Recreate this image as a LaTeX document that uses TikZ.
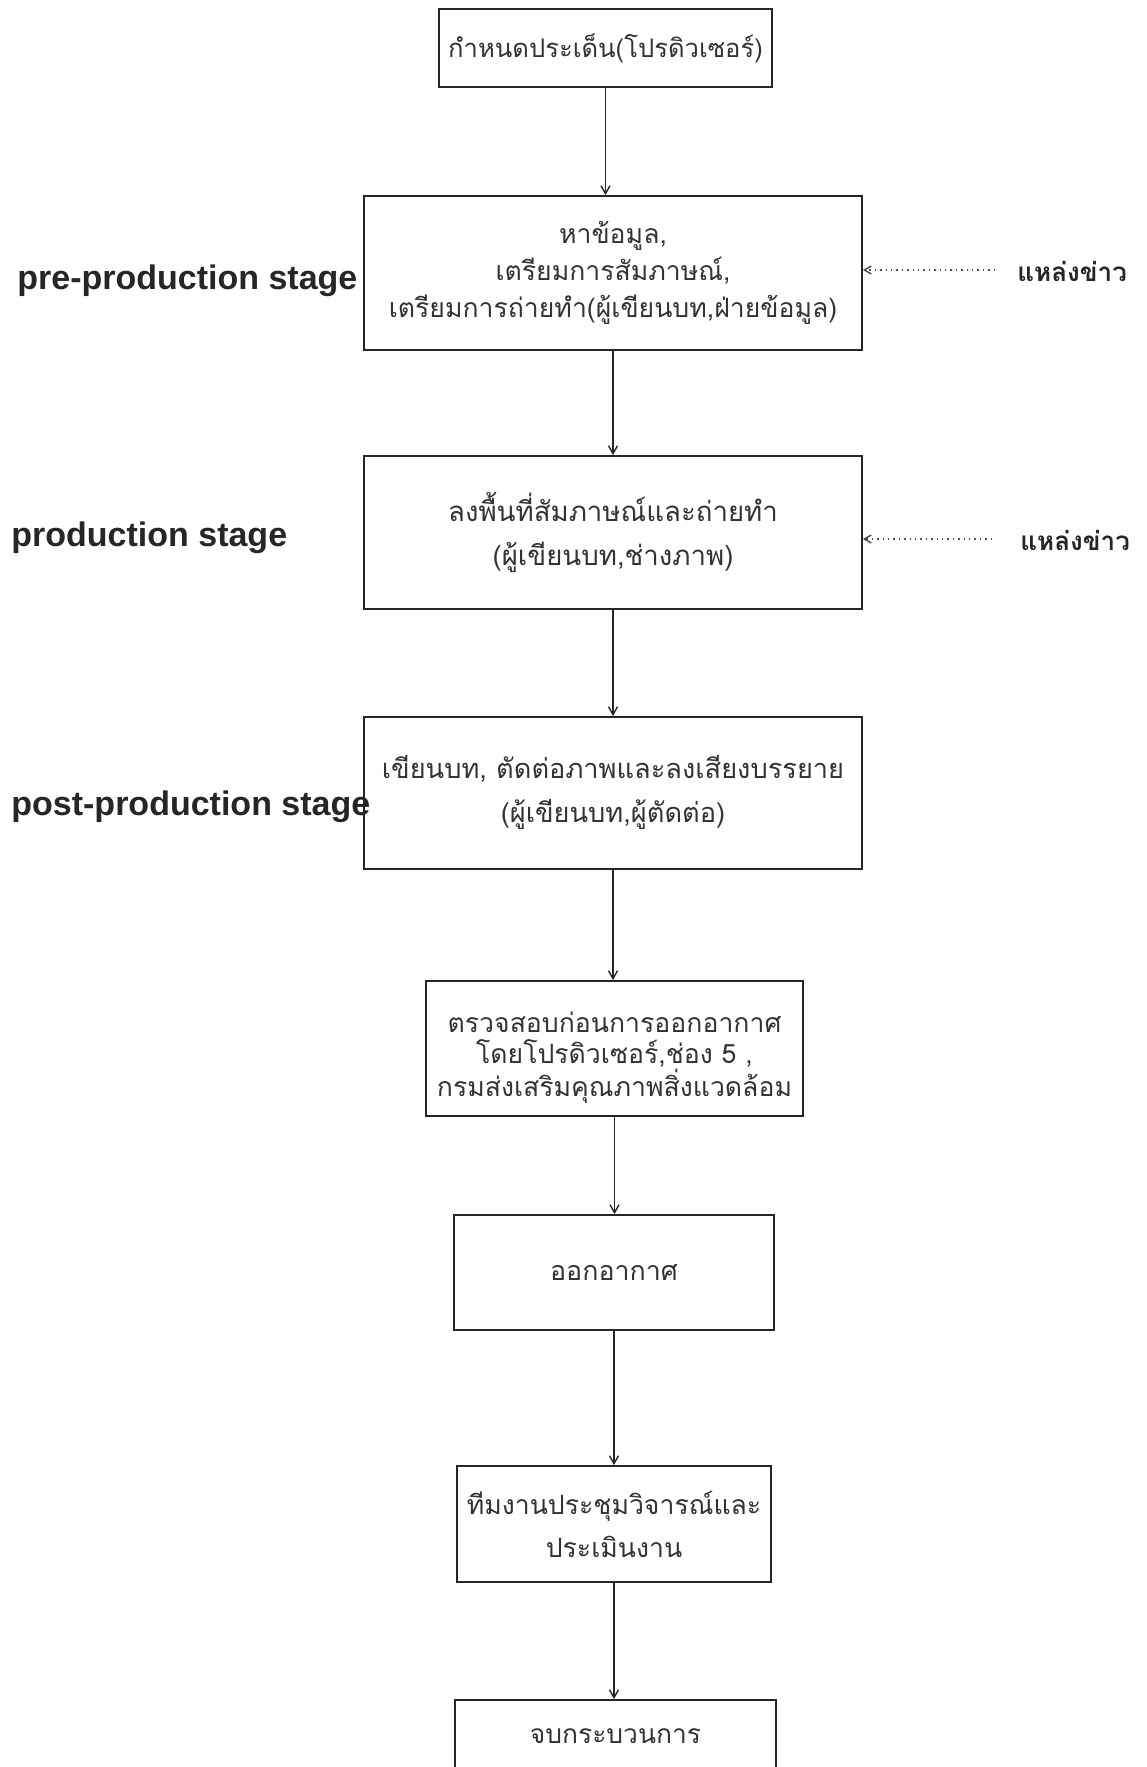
\documentclass[tikz,border=0pt]{standalone}
\usepackage{fontspec}
\newfontfamily\thaifont[Script=Thai]{Loma}
\newfontfamily\labfont{Liberation Sans}
\usetikzlibrary{arrows.meta}
\begin{document}
\begin{tikzpicture}[x=0.5pt,y=-0.5pt,
  box/.style={draw=black!85, line width=0.9pt, rectangle, inner sep=0pt, align=center, text=black!80},
  flow/.style={draw=black!85, line width=0.7pt, -{Straight Barb[length=4pt,width=4.5pt]}},
  src/.style={draw=black!70, line width=0.7pt, dotted, -{Straight Barb[length=3.5pt,width=4pt]}},
  stagelbl/.style={font=\labfont\bfseries\fontsize{17}{20}\selectfont, text=black!85, anchor=west, inner sep=0pt},
  srclbl/.style={font=\thaifont\bfseries\fontsize{13}{15}\selectfont, text=black!85, anchor=west, inner sep=0pt}]
\clip (0,0) rectangle (1146,1767);
\fill[white] (0,0) rectangle (1146,1767);

\node[box, minimum width=166.5pt, minimum height=39pt, font=\thaifont\fontsize{12.8}{16}\selectfont] (b1) at (605.5,48) {กำหนดประเด็น(โปรดิวเซอร์)};
\node[box, minimum width=249pt, minimum height=77pt, font=\thaifont\fontsize{13.3}{18.5}\selectfont] (b2) at (613,273) {หาข้อมูล,\\เตรียมการสัมภาษณ์,\\เตรียมการถ่ายทำ(ผู้เขียนบท,ฝ่ายข้อมูล)};
\node[box, minimum width=249pt, minimum height=76.5pt, font=\thaifont\fontsize{13.8}{22}\selectfont] (b3) at (613,532.5) {ลงพื้นที่สัมภาษณ์และถ่ายทำ\\(ผู้เขียนบท,ช่างภาพ)};
\node[box, minimum width=249pt, minimum height=76pt, font=\thaifont\fontsize{13.6}{22}\selectfont] (b4) at (613,793) {เขียนบท, ตัดต่อภาพและลงเสียงบรรยาย\\(ผู้เขียนบท,ผู้ตัดต่อ)};
\node[box, minimum width=188.5pt, minimum height=67.5pt,
  label={[font=\thaifont\fontsize{13.3}{15.5}\selectfont, text=black!80, align=center, yshift=-4.5pt, inner sep=0pt]center:{ตรวจสอบก่อนการออกอากาศ\\โดยโปรดิวเซอร์,ช่อง 5 ,\\กรมส่งเสริมคุณภาพสิ่งแวดล้อม}}] (b5) at (614.5,1048.5) {};
\node[box, minimum width=160pt, minimum height=57.5pt, font=\thaifont\fontsize{13.4}{16}\selectfont] (b6) at (614,1272.5) {ออกอากาศ};
\node[box, minimum width=157pt, minimum height=58pt, font=\thaifont\fontsize{13.3}{21.5}\selectfont] (b7) at (614,1524) {ทีมงานประชุมวิจารณ์และ\\ประเมินงาน};
\node[box, minimum width=160.5pt, minimum height=36pt, font=\thaifont\fontsize{13.2}{16}\selectfont] (b8) at (615.5,1736) {จบกระบวนการ};

\draw[flow] (b1.south) -- (b1.south |- b2.north);
\draw[flow] (b2.south) -- (b3.north);
\draw[flow] (b3.south) -- (b4.north);
\draw[flow] (b4.south) -- (b4.south |- b5.north);
\draw[flow] (b5.south) -- (b5.south |- b6.north);
\draw[flow] (b6.south) -- (b6.south |- b7.north);
\draw[flow] (b7.south) -- (b7.south |- b8.north);

\node[stagelbl] (l1) at (17,281) {pre-production stage};
\node[stagelbl] (l2) at (11,538) {production stage};
\node[stagelbl] (l3) at (11,807) {post-production stage};

\node[srclbl] (s1) at (1017,271) {แหล่งข่าว};
\node[srclbl] (s2) at (1020,540) {แหล่งข่าว};
\coordinate (s1start) at (995,270);
\coordinate (s2start) at (992,539);
\draw[src] (s1start) -- (s1start -| b2.east);
\draw[src] (s2start) -- (s2start -| b3.east);
\end{tikzpicture}
\end{document}
